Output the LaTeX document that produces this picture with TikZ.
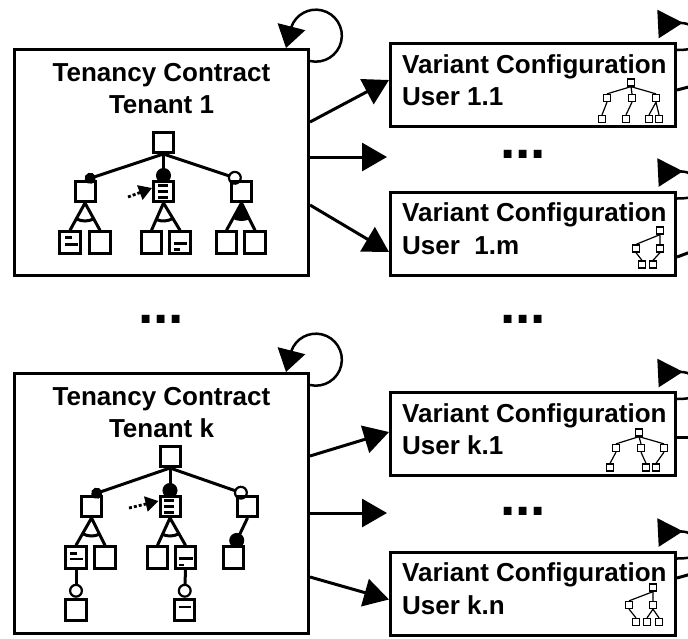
\documentclass[tikz,border=0pt]{standalone}
\usepackage{fontspec}
\setmainfont{Liberation Sans}
\usetikzlibrary{arrows.meta,positioning}
\tikzset{
  contract/.style={draw,line width=3pt,minimum width=294pt,inner sep=0pt},
  variant/.style={draw,line width=3pt,minimum width=285pt,minimum height=83pt,inner sep=0pt},
  title/.style={font=\fontsize{26}{32.5}\selectfont\bfseries,align=center,inner sep=0pt},
  vtext/.style={title,align=left},
  dots/.style={font=\fontsize{55}{55}\selectfont\bfseries,inner sep=0pt,anchor=base},
  feat/.style={draw,line width=3pt,minimum width=20pt,minimum height=20pt,inner sep=0pt},
  leaf/.style={feat,minimum width=20.5pt,minimum height=21.5pt},
  mini/.style={draw,line width=1.3pt,minimum size=7pt,inner sep=0pt},
  flow/.style={-{Triangle[length=25pt,width=28pt]},line width=3pt},
  selfloop/.style={-{Triangle[length=22pt,width=28pt]},line width=2.5pt},
  vloop/.style={{Triangle[reversed,length=25pt,width=28pt]}-,line width=2.5pt},
  wire/.style={line width=3pt},
  fline/.style={line width=3pt},
  mand/.style={fline,-{Circle[length=11pt]}},
  mandbig/.style={fline,-{Circle[length=15pt]}},
  opt/.style={fline,-{Circle[open,length=14pt,line width=2.2pt]}},
  icon/.style={line width=2.4pt},
  hint/.style={densely dashed,line width=2.8pt,-{Triangle[length=13pt,width=15pt]}},
  miniedge/.style={line width=1.2pt}
}
\begin{document}
\begin{tikzpicture}[x=1pt,y=1pt]
\useasboundingbox (0,0) rectangle (688,-638);

\node[contract,minimum height=226pt] (t1) at (161.5,-162.5) {};
\node[contract,minimum height=260pt] (tk) at (161.5,-503.5) {};
\node[title,below=15pt of t1.north] (t1t) {Tenancy Contract\\Tenant 1};
\node[title,below=15pt of tk.north] (tkt) {Tenancy Contract\\Tenant k};

\node[variant] (v11) at (533,-85) {};
\node[variant] (v1m) at (533,-233.5) {};
\node[variant] (vk1) at (533,-434) {};
\node[variant] (vkn) at (533,-593.5) {};
\node[vtext,below right=12pt and 13pt of v11.north west] (v11t) {Variant Configuration\\User 1.1};
\node[vtext,below right=12pt and 13pt of v1m.north west] (v1mt) {Variant Configuration\\User\ \ 1.m};
\node[vtext,below right=12pt and 13pt of vk1.north west] (vk1t) {Variant Configuration\\User k.1};
\node[vtext,below right=12pt and 13pt of vkn.north west] (vknt) {Variant Configuration\\User k.n};

\node[dots] (d1) at (523,-158.5) {...};
\node[dots] (d2) at (161,-323) {...};
\node[dots] (d3) at (523,-323) {...};
\node[dots] (d4) at (523,-515) {...};

\coordinate (gap1) at (387,-157);
\coordinate (gap2) at (387,-513);
\draw[flow] ([yshift=40.5pt]t1.east) -- ([yshift=5pt]v11.west);
\draw[flow] ([yshift=5.5pt]t1.east) -- (gap1);
\draw[flow] ([yshift=-42.5pt]t1.east) -- ([yshift=-18.5pt]v1m.west);
\draw[flow] ([yshift=47.5pt]tk.east) -- ([yshift=2pt]vk1.west);
\draw[flow] ([yshift=-9.5pt]tk.east) -- (gap2);
\draw[flow] ([yshift=-73.5pt]tk.east) -- ([yshift=-6pt]vkn.west);

\draw[selfloop] ([yshift=-13pt]t1.north east) arc[start angle=-103,end angle=160,radius=26pt] -- ([xshift=-24pt]t1.north east);
\draw[selfloop] ([yshift=-13pt]tk.north east) arc[start angle=-103,end angle=160,radius=26pt] -- ([xshift=-24pt]tk.north east);

\draw[vloop] ([xshift=-19pt,yshift=18pt]v11.north east) .. controls +(40,2) and +(45,0) .. ([yshift=-8pt]v11.north east);
\draw[vloop] ([xshift=-19pt,yshift=18pt]v1m.north east) .. controls +(40,2) and +(45,0) .. ([yshift=-8pt]v1m.north east);
\draw[vloop] ([xshift=-19pt,yshift=18pt]vk1.north east) .. controls +(40,2) and +(45,0) .. ([yshift=-8pt]vk1.north east);
\draw[vloop] ([xshift=-19pt,yshift=18pt]vkn.north east) .. controls +(40,2) and +(45,0) .. ([yshift=-8pt]vkn.north east);

\coordinate (o11) at (700,-84);
\coordinate (o1m) at (700,-248.5);
\coordinate (ok1) at (700,-437);
\coordinate (okn) at (700,-571.5);
\draw[wire] ([yshift=-5pt]v11.east) -- (o11);
\draw[wire] ([yshift=-23.5pt]v1m.east) -- (o1m);
\draw[wire] ([yshift=-3pt]vk1.east) -- (ok1);
\draw[wire] ([yshift=15.5pt]vkn.east) -- (okn);

\node[feat] (t1f0) at (163.5,-142.5) {};
\node[feat] (t1f1) at (85,-191.5) {};
\node[feat] (t1f2) at (163.5,-191.5) {};
\node[feat] (t1f3) at (241.5,-191.5) {};
\node[leaf] (t1f11) at (70,-242.5) {};
\node[leaf] (t1f12) at (100,-242.5) {};
\node[leaf] (t1f21) at (151.5,-242.5) {};
\node[leaf] (t1f22) at (180,-242.5) {};
\node[leaf] (t1f31) at (226.5,-242.5) {};
\node[leaf] (t1f32) at (255,-242.5) {};
\draw[mand] (t1f0.south) -- (t1f1.north);
\draw[mandbig] (t1f0.south) -- ([yshift=-3pt]t1f2.north);
\draw[opt] (t1f0.south) -- (t1f3.north);
\draw[fline] (t1f1.south) -- (t1f11.north) (t1f1.south) -- (t1f12.north);
\draw[fline] (t1f1.south) ++(241:18) arc[start angle=241,end angle=299,radius=18pt];
\draw[fline] (t1f2.south) -- (t1f21.north) (t1f2.south) -- (t1f22.north);
\draw[fline] (t1f2.south) ++(246:18) arc[start angle=246,end angle=301,radius=18pt];
\draw[fline] (t1f3.south) -- (t1f31.north) (t1f3.south) -- (t1f32.north);
\fill (t1f3.south) -- ++(241:18) arc[start angle=241,end angle=296,radius=18pt] -- cycle;
\coordinate (t1hint) at (128,-197);
\draw[hint] (t1hint) -- ([yshift=3.5pt]t1f2.west);
\draw[icon] ([shift={(-6,6)}]t1f2.center) -- ++(10,0);
\draw[icon] ([shift={(-6,0)}]t1f2.center) -- ++(10,0);
\draw[icon] ([shift={(-6,-6)}]t1f2.center) -- ++(10,0);
\draw[icon] ([shift={(-5,5)}]t1f11.center) -- ++(6.5,0);
\draw[icon] ([shift={(-5,-2)}]t1f11.center) -- ++(13,0);
\draw[icon] ([shift={(-6.5,-1)}]t1f22.center) -- ++(13,0);
\draw[icon] ([shift={(-6.5,-7)}]t1f22.center) -- ++(6.5,0);

\node[feat] (tkf0) at (170,-456.5) {};
\node[feat] (tkf1) at (91.5,-506.5) {};
\node[feat] (tkf2) at (170,-506.5) {};
\node[feat] (tkf3) at (247.5,-506.5) {};
\node[leaf] (tkf11) at (76,-557.5) {};
\node[leaf] (tkf12) at (105,-557.5) {};
\node[leaf] (tkf21) at (157.5,-557.5) {};
\node[leaf] (tkf22) at (185.5,-557.5) {};
\node[leaf] (tkf31) at (233.5,-557.5) {};
\node[leaf] (tkf111) at (76,-610) {};
\node[leaf] (tkf221) at (184.5,-610) {};
\draw[mand] (tkf0.south) -- (tkf1.north);
\draw[mandbig] (tkf0.south) -- ([yshift=-3pt]tkf2.north);
\draw[opt] (tkf0.south) -- (tkf3.north);
\draw[fline] (tkf1.south) -- (tkf11.north) (tkf1.south) -- (tkf12.north);
\draw[fline] (tkf1.south) ++(240:18) arc[start angle=240,end angle=296,radius=18pt];
\draw[fline] (tkf2.south) -- (tkf21.north) (tkf2.south) -- (tkf22.north);
\draw[fline] (tkf2.south) ++(245:18) arc[start angle=245,end angle=300,radius=18pt];
\draw[mandbig] (tkf3.south) -- ([yshift=-2pt]tkf31.north);
\draw[opt] (tkf11.south) -- (tkf111.north);
\draw[opt] (tkf22.south) -- (tkf221.north);
\coordinate (tkhint) at (129,-508);
\draw[hint] (tkhint) -- ([yshift=5.5pt]tkf2.west);
\draw[icon] ([shift={(-6,6)}]tkf2.center) -- ++(10,0);
\draw[icon] ([shift={(-6,0)}]tkf2.center) -- ++(10,0);
\draw[icon] ([shift={(-6,-6)}]tkf2.center) -- ++(10,0);
\draw[icon] ([shift={(-6,4)}]tkf11.center) -- ++(6.5,0);
\draw[icon] ([shift={(-6,-1.5)}]tkf11.center) -- ++(13,0);
\draw[icon] ([shift={(-7,-1)}]tkf22.center) -- ++(14.5,0);
\draw[icon] ([shift={(-7,-7.5)}]tkf22.center) -- ++(5.5,0);
\draw[icon] ([shift={(-6,3)}]tkf221.center) -- ++(12.5,0);

\node[mini] (m11r) at (631,-82.5) {};
\node[mini] (m11a) at (607,-98) {};
\node[mini] (m11b) at (632,-98) {};
\node[mini] (m11c) at (656,-98) {};
\node[mini] (m11a1) at (602,-119) {};
\node[mini] (m11b1) at (626,-119) {};
\node[mini] (m11c1) at (649,-119) {};
\node[mini] (m11c2) at (659,-119) {};
\draw[miniedge] (m11r.south) -- (m11a.north) (m11r.south) -- (m11b.north) (m11r.south) -- (m11c.north);
\draw[miniedge] (m11a.south) -- (m11a1.north) (m11b.south) -- (m11b1.north);
\draw[miniedge] (m11c.south) -- (m11c1.north) (m11c.south) -- (m11c2.north);

\node[mini] (m1mr) at (660,-230.5) {};
\node[mini] (m1ma) at (636,-248.5) {};
\node[mini] (m1mb) at (660,-248.5) {};
\node[mini] (m1ma1) at (642,-264.5) {};
\node[mini] (m1mb1) at (653,-264.5) {};
\draw[miniedge] (m1mr.south) -- (m1ma.north) (m1mr.south) -- (m1mb.north);
\draw[miniedge] (m1ma.south) -- (m1ma1.north) (m1mb.south) -- (m1mb1.north);

\node[mini] (mk1r) at (639,-432.5) {};
\node[mini] (mk1a) at (616,-448) {};
\node[mini] (mk1b) at (641,-448) {};
\node[mini] (mk1c) at (664,-448) {};
\node[mini] (mk1a1) at (610,-467.5) {};
\node[mini] (mk1b1) at (646,-467.5) {};
\node[mini] (mk1c1) at (656,-467.5) {};
\draw[miniedge] (mk1r.south) -- (mk1a.north) (mk1r.south) -- (mk1b.north) (mk1r.south) -- (mk1c.north);
\draw[miniedge] (mk1a.south) -- (mk1a1.north) (mk1b.south) -- (mk1b1.north) (mk1c.south) -- (mk1c1.north);

\node[mini] (mknr) at (653,-587.5) {};
\node[mini] (mkna) at (629,-605) {};
\node[mini] (mknb) at (653,-605) {};
\node[mini] (mkna1) at (636,-622) {};
\node[mini] (mknb1) at (647,-622) {};
\node[mini] (mknb2) at (659,-622) {};
\draw[miniedge] (mknr.south) -- (mkna.north) (mknr.south) -- (mknb.north);
\draw[miniedge] (mkna.south) -- (mkna1.north) (mknb.south) -- (mknb1.north) (mknb.south) -- (mknb2.north);
\end{tikzpicture}
\end{document}
